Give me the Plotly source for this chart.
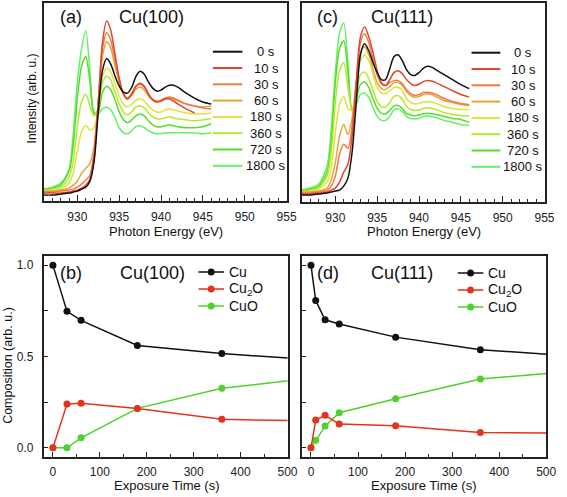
import plotly.graph_objects as go

W, H = 567, 497
FONT = "Liberation Sans, Arial, sans-serif"

# ---------------- data ----------------
energy = [926, 927, 928, 929, 929.5, 930, 930.5, 931, 931.5, 932, 932.5, 933, 933.5, 934, 934.5,
          935, 935.5, 936, 936.5, 937, 937.5, 938, 938.5, 939, 939.5, 940, 940.5, 941, 941.5,
          942, 943, 944, 945, 946]

series_labels = ["0 s", "10 s", "30 s", "60 s", "180 s", "360 s", "720 s", "1800 s"]
series_colors = ["#111111", "#e5432c", "#f27a45", "#e3a53a", "#e2e23a", "#b2ea2e", "#55dd28", "#66f06a"]

# Cu(100) XAS spectra
cu100_0s = [.03, .03, .035, .04, .045, .05, .06, .07, .10, .20, .45, .66, .72, .69, .63, .58, .55, .545, .575,
            .63, .655, .64, .60, .57, .555, .56, .575, .585, .585, .575, .545, .52, .50, .49]
cu100_10s = [.04, .04, .04, .045, .05, .055, .065, .08, .11, .22, .50, .80, .91, .86, .74, .62, .54, .515, .54,
             .58, .595, .58, .54, .51, .50, .505, .515, .515, .505, .49, .465, .445, None, None]
cu100_30s = [.045, .045, .05, .055, .06, .07, .085, .105, .13, .25, .50, .77, .85, .81, .71, .61, .545, .52, .545,
             .58, .59, .575, .54, .515, .505, .51, .52, .525, .52, .51, .49, .48, .47, .465]
cu100_60s = [.05, .05, .055, .065, .08, .10, .14, .165, .19, .28, .50, .73, .805, .77, .68, .60, .54, .515, .535,
             .565, .575, .56, .53, .51, .50, .505, .515, .52, .515, .505, .49, .48, .475, .48]
cu100_180s = [.05, .05, .06, .09, .14, .25, .35, .38, .36, .37, .48, .63, .67, .65, .59, .53, .49, .475, .49,
              .51, .515, .505, .48, .46, .45, .45, .46, .465, .46, .455, .445, .44, .44, .445]
cu100_360s = [.055, .06, .07, .12, .20, .38, .50, .54, .48, .43, .47, .60, .63, .61, .55, .49, .45, .435, .45,
              .475, .48, .47, .445, .425, .415, .415, .42, .425, .42, .415, .41, .405, .41, .415]
cu100_720s = [.06, .065, .08, .15, .28, .52, .68, .73, .60, .44, .45, .55, .58, .56, .51, .45, .41, .395, .41,
              .43, .44, .43, .405, .385, .375, .375, .38, .385, .38, .375, .37, .37, .375, .39]
cu100_1800s = [.06, .07, .09, .16, .34, .60, .77, .86, .66, .45, .44, .465, .475, .46, .42, .37, .345, .34, .355,
               .375, .38, .37, .355, .345, .34, .34, .345, .345, .345, .345, .345, .345, .34, .345]

# Cu(111) XAS spectra
cu111_0s = [.035, .035, .04, .045, .05, .055, .06, .08, .12, .25, .50, .74, .795, .76, .70, .65, .615, .615, .67,
            .73, .74, .71, .665, .64, .636, .65, .672, .682, .678, .665, .64, .615, .59, .57]
cu111_10s = [.04, .04, .045, .05, .06, .07, .10, .15, .19, .33, .60, .83, .88, .83, .75, .66, .60, .585, .615,
             .65, .66, .645, .615, .595, .586, .592, .605, .611, .608, .60, .58, .56, .54, .527]
cu111_30s = [.045, .045, .05, .06, .08, .13, .24, .29, .27, .38, .60, .80, .845, .80, .72, .64, .595, .585, .60,
             .61, .61, .595, .565, .545, .535, .54, .55, .552, .548, .54, .52, .505, .495, .49]
cu111_60s = [.05, .05, .055, .07, .11, .20, .33, .39, .34, .42, .60, .75, .78, .74, .67, .60, .57, .565, .58,
             .60, .60, .585, .555, .535, .527, .53, .54, .544, .54, .53, .51, .50, .49, .485]
cu111_180s = [.05, .055, .065, .10, .17, .35, .49, .53, .47, .46, .60, .71, .737, .71, .64, .575, .548, .545, .56,
              .575, .577, .56, .52, .50, .493, .495, .502, .505, .502, .495, .48, .47, .465, .465]
cu111_360s = [.055, .06, .07, .13, .25, .50, .66, .70, .58, .46, .55, .64, .653, .62, .56, .505, .48, .476, .50,
              .53, .535, .515, .48, .465, .46, .462, .47, .473, .47, .465, .45, .44, .435, .434]
cu111_720s = [.06, .065, .08, .15, .30, .60, .77, .81, .65, .46, .52, .59, .603, .575, .52, .47, .445, .443, .46,
              .482, .485, .47, .445, .437, .434, .437, .443, .446, .443, .44, .43, .42, .415, .40]
cu111_1800s = [.06, .07, .09, .18, .36, .65, .85, .90, .70, .46, .49, .54, .547, .525, .475, .43, .41, .41, .43,
               .463, .468, .455, .43, .42, .418, .42, .43, .434, .43, .425, .41, .40, .39, .385]

# Composition vs exposure time
time_100 = [0, 30, 60, 180, 360, 720]
cu_100 = [1.0, 0.747, 0.698, 0.560, 0.516, 0.453]
cu2o_100 = [0.0, 0.240, 0.244, 0.216, 0.156, 0.140]
cuo_100 = [0.0, 0.0, 0.055, 0.216, 0.326, 0.430]

time_111 = [0, 10, 30, 60, 180, 360, 720]
cu_111 = [1.0, 0.806, 0.701, 0.678, 0.606, 0.537, 0.475]
cu2o_111 = [0.0, 0.152, 0.178, 0.130, 0.121, 0.084, 0.076]
cuo_111 = [0.0, 0.042, 0.119, 0.192, 0.269, 0.377, 0.454]

comp_labels = ["Cu", "Cu<sub>2</sub>O", "CuO"]
comp_colors = ["#111111", "#e4321f", "#4fd02a"]

cu100_spectra = [cu100_0s, cu100_10s, cu100_30s, cu100_60s, cu100_180s, cu100_360s, cu100_720s, cu100_1800s]
cu111_spectra = [cu111_0s, cu111_10s, cu111_30s, cu111_60s, cu111_180s, cu111_360s, cu111_720s, cu111_1800s]

# ---------------- figure ----------------
def px(x):
    return x / W

def py(y):
    return 1 - y / H

fig = go.Figure()

for i in reversed(range(8)):
    fig.add_trace(go.Scatter(x=energy, y=cu100_spectra[i], mode="lines", xaxis="x", yaxis="y",
                             line=dict(color=series_colors[i], width=1.5, shape="spline", smoothing=0.8),
                             showlegend=False, connectgaps=False))
    fig.add_trace(go.Scatter(x=energy, y=cu111_spectra[i], mode="lines", xaxis="x2", yaxis="y2",
                             line=dict(color=series_colors[i], width=1.5, shape="spline", smoothing=0.8),
                             showlegend=False))

for vals, col in zip([cuo_100, cu2o_100, cu_100], comp_colors[::-1]):
    fig.add_trace(go.Scatter(x=time_100, y=vals, mode="lines+markers", xaxis="x3", yaxis="y3",
                             line=dict(color=col, width=1.5), marker=dict(color=col, size=7),
                             showlegend=False, cliponaxis=True))
for vals, col in zip([cuo_111, cu2o_111, cu_111], comp_colors[::-1]):
    fig.add_trace(go.Scatter(x=time_111, y=vals, mode="lines+markers", xaxis="x4", yaxis="y4",
                             line=dict(color=col, width=1.5), marker=dict(color=col, size=7),
                             showlegend=False, cliponaxis=True))

axis_common = dict(showline=True, linecolor="#222222", linewidth=1.5, mirror=True, showgrid=False,
                   zeroline=False, tickfont=dict(family=FONT, size=12, color="#222222"),
                   tickcolor="#222222")

top_x = dict(axis_common, range=[926, 955], tick0=930, dtick=5, ticks="inside", ticklen=6, tickwidth=1.2,
             minor=dict(dtick=1, ticks="inside", ticklen=3, tickcolor="#222222", tickwidth=1),
             ticklabelstandoff=4)
top_y = dict(axis_common, range=[0, 1], showticklabels=False, ticks="")
bot_x = dict(axis_common, range=[-20, 500], tick0=0, dtick=100, ticks="inside", ticklen=5, tickwidth=1.2,
             minor=dict(dtick=50, ticks="inside", ticklen=3, tickcolor="#222222", tickwidth=1),
             ticklabelstandoff=3)
bot_y = dict(axis_common, range=[-0.05, 1.05], tick0=0, dtick=0.5, tickformat=".1f", ticks="inside",
             ticklen=5, tickwidth=1.2,
             minor=dict(dtick=0.25, ticks="inside", ticklen=5, tickcolor="#222222", tickwidth=1.2),
             ticklabelstandoff=6)

fig.update_layout(
    width=W, height=H, margin=dict(l=0, r=0, t=0, b=0),
    paper_bgcolor="white", plot_bgcolor="white",
    xaxis=dict(top_x, domain=[px(44.7), px(291.7)], anchor="y"),
    yaxis=dict(top_y, domain=[py(201), py(3)], anchor="x"),
    xaxis2=dict(top_x, domain=[px(307.3), px(554.3)], anchor="y2"),
    yaxis2=dict(top_y, domain=[py(202), py(3)], anchor="x2"),
    xaxis3=dict(bot_x, domain=[px(44.3), px(292.7)], anchor="y3"),
    yaxis3=dict(bot_y, domain=[py(457), py(256)], anchor="x3"),
    xaxis4=dict(bot_x, domain=[px(307), px(556)], anchor="y4"),
    yaxis4=dict(bot_y, domain=[py(457), py(256)], anchor="x4", showticklabels=False),
    showlegend=False,
)

annotations = []
shapes = []

def text(x, y, s, size, angle=0, xanchor="center"):
    annotations.append(dict(x=px(x), y=py(y), xref="paper", yref="paper", text=s, showarrow=False,
                            xanchor=xanchor, yanchor="middle", textangle=angle,
                            font=dict(family=FONT, size=size, color="#111111")))

# panel titles
text(72, 17, "(a)", 18)
text(154.5, 17, "Cu(100)", 18)
text(333, 17, "(c)", 18)
text(409, 17, "Cu(111)", 18)
text(72.5, 273, "(b)", 18)
text(155.3, 273, "Cu(100)", 18)
text(334, 273, "(d)", 18)
text(409, 273, "Cu(111)", 18)

# axis titles
text(33, 98, "Intensity (arb. u.)", 12, angle=-90)
text(169, 231, "Photon Energy (eV)", 13)
text(431.5, 231, "Photon Energy (eV)", 13)
text(8, 365, "Composition (arb. u.)", 12.5, angle=-90)
text(169, 485, "Exposure Time (s)", 13)
text(431.5, 485, "Exposure Time (s)", 13)

# spectra legends
for (lx0, lx1, tx, y0) in [(216.7, 246.7, 271, 51.7), (480, 509.3, 532.5, 52.7)]:
    for i, (lab, col) in enumerate(zip(series_labels, series_colors)):
        y = y0 + 16.3 * i
        shapes.append(dict(type="line", xref="paper", yref="paper", x0=px(lx0), x1=px(lx1),
                           y0=py(y), y1=py(y), line=dict(color=col, width=2)))
        text(tx, y, lab, 13)

# composition legends
for (mx, ys) in [(215, [272, 289, 306]), (479, [273, 290, 307])]:
    for lab, col, y in zip(comp_labels, comp_colors, ys):
        shapes.append(dict(type="line", xref="paper", yref="paper", x0=px(mx - 13), x1=px(mx + 13),
                           y0=py(y), y1=py(y), line=dict(color=col, width=1.5)))
        shapes.append(dict(type="circle", xref="paper", yref="paper", x0=px(mx - 3.5), x1=px(mx + 3.5),
                           y0=py(y + 3.5), y1=py(y - 3.5), fillcolor=col, line=dict(color=col, width=0)))
        text(mx + 16, y, lab, 14, xanchor="left")

fig.update_layout(annotations=annotations, shapes=shapes)

fig.write_html("out.html", config={"displayModeBar": False},
               post_script="document.body.style.margin='0';document.body.style.overflow='hidden';")
